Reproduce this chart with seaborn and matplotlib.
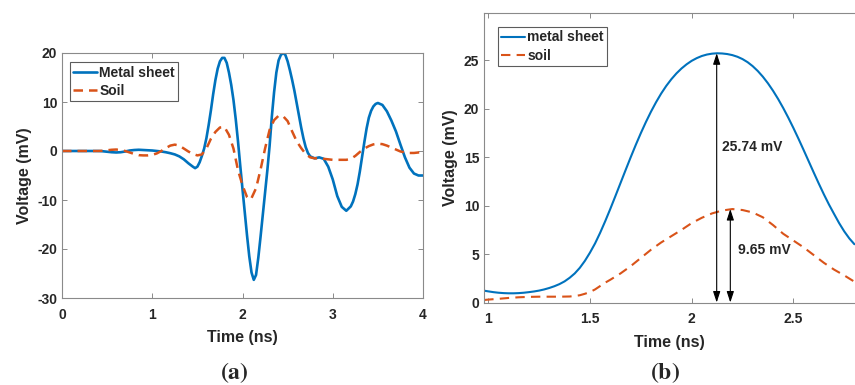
import numpy as np
import pandas as pd
import matplotlib
matplotlib.use("Agg")
import matplotlib.pyplot as plt
import seaborn as sns

# ---------------- data: panel (a) ----------------
t_metal_a = [0.00, 0.05, 0.10, 0.15, 0.20, 0.25, 0.30, 0.35, 0.40, 0.45, 0.50, 0.55, 0.60, 0.65,
             0.70, 0.75, 0.80, 0.85, 0.90, 0.95, 1.00, 1.05, 1.10, 1.15, 1.20, 1.25, 1.30, 1.35,
             1.40, 1.45, 1.475, 1.50, 1.525, 1.55, 1.575, 1.60, 1.625, 1.65, 1.675, 1.70, 1.725,
             1.75, 1.775, 1.80, 1.825, 1.85, 1.875, 1.90, 1.925, 1.95, 1.975, 2.00, 2.025, 2.05,
             2.075, 2.10, 2.125, 2.15, 2.175, 2.20, 2.225, 2.25, 2.275, 2.30, 2.325, 2.35, 2.375,
             2.40, 2.425, 2.45, 2.475, 2.50, 2.525, 2.55, 2.575, 2.60, 2.625, 2.65, 2.675, 2.70,
             2.725, 2.75, 2.80, 2.85, 2.90, 2.95, 3.00, 3.05, 3.10, 3.15, 3.20, 3.225, 3.25, 3.275,
             3.30, 3.325, 3.35, 3.375, 3.40, 3.425, 3.45, 3.475, 3.50, 3.55, 3.60, 3.65, 3.70,
             3.75, 3.80, 3.85, 3.90, 3.95, 4.00]
v_metal_a = [0, 0, 0, 0, 0, 0, 0, 0, 0, -0.05, -0.15, -0.25, -0.3, -0.25,
             -0.1, 0.1, 0.2, 0.25, 0.2, 0.15, 0.1, 0.0, -0.1, -0.25, -0.45, -0.7, -1.1, -1.7,
             -2.5, -3.2, -3.5, -3.2, -2.3, -1.0, 0.5, 2.6, 5.3, 8.3, 11.6, 14.5, 16.8,
             18.3, 19.0, 19.0, 18.0, 16.0, 13.5, 10.4, 6.5, 2.0, -3.0, -7.8, -12.5, -17.2,
             -21.5, -24.8, -26.3, -25.3, -21.8, -17.5, -13.0, -8.5, -4.0, 1.0, 7.0, 12.0, 16.0,
             18.5, 19.6, 20.0, 19.6, 18.3, 16.5, 14.5, 12.3, 9.8, 7.3, 4.8, 2.6, 0.8,
             -0.4, -1.1, -1.5, -1.3, -1.6, -3.2, -5.8, -9.2, -11.4, -12.2, -11.3, -10.3, -8.8, -6.8,
             -4.2, -1.2, 1.8, 4.6, 6.8, 8.2, 9.1, 9.6, 9.8, 9.4, 8.1, 6.2, 4.0,
             1.3, -1.3, -3.4, -4.6, -5.0, -5.0]

t_soil_a = [0.00, 0.05, 0.10, 0.15, 0.20, 0.25, 0.30, 0.35, 0.40, 0.45, 0.50, 0.55, 0.60, 0.65,
            0.70, 0.75, 0.80, 0.85, 0.90, 0.95, 1.00, 1.05, 1.10, 1.15, 1.20, 1.25, 1.30, 1.35,
            1.40, 1.45, 1.50, 1.55, 1.60, 1.65, 1.70, 1.75, 1.80, 1.85, 1.90, 1.95, 2.00, 2.05,
            2.075, 2.10, 2.15, 2.20, 2.25, 2.30, 2.35, 2.40, 2.45, 2.50, 2.55, 2.60, 2.65, 2.70,
            2.75, 2.80, 2.85, 2.90, 2.95, 3.00, 3.05, 3.10, 3.15, 3.20, 3.25, 3.30, 3.35, 3.40,
            3.45, 3.50, 3.55, 3.60, 3.65, 3.70, 3.75, 3.80, 3.85, 3.90, 3.95, 4.00]
v_soil_a = [0, 0, 0, 0, 0, 0, 0, 0, 0, 0.05, 0.15, 0.25, 0.3, 0.2,
            0.0, -0.3, -0.6, -0.85, -0.9, -0.9, -0.8, -0.5, 0.0, 0.6, 1.1, 1.3, 1.1, 0.5,
            -0.1, -0.6, -0.9, -0.7, 0.5, 2.5, 3.9, 4.8, 4.9, 3.3, 0.5, -3.9, -7.0, -9.4,
            -9.9, -9.6, -7.6, -3.8, 0.5, 4.3, 6.3, 7.2, 7.1, 6.1, 4.0, 2.0, 0.6, -0.6,
            -1.3, -1.5, -1.5, -1.6, -1.7, -1.8, -1.8, -1.8, -1.8, -1.6, -1.0, -0.2, 0.5, 1.0,
            1.35, 1.5, 1.4, 1.1, 0.7, 0.3, -0.1, -0.3, -0.4, -0.4, -0.3, -0.3]

# ---------------- data: panel (b) ----------------
t_metal_b = [0.98, 1.00, 1.025, 1.05, 1.075, 1.10, 1.125, 1.15, 1.175, 1.20, 1.225, 1.25,
             1.275, 1.30, 1.325, 1.35, 1.375, 1.40, 1.425, 1.45, 1.475, 1.50, 1.525, 1.55,
             1.575, 1.60, 1.625, 1.65, 1.675, 1.70, 1.725, 1.75, 1.775, 1.80, 1.825, 1.85,
             1.875, 1.90, 1.925, 1.95, 1.975, 2.00, 2.025, 2.05, 2.075, 2.10, 2.125, 2.15,
             2.175, 2.20, 2.225, 2.25, 2.275, 2.30, 2.325, 2.35, 2.375, 2.40, 2.425, 2.45,
             2.475, 2.50, 2.525, 2.55, 2.575, 2.60, 2.625, 2.65, 2.675, 2.70, 2.725, 2.75,
             2.775, 2.80]
v_metal_b = [1.22, 1.15, 1.07, 1.01, 0.97, 0.95, 0.95, 0.97, 1.01, 1.07, 1.14, 1.23,
             1.35, 1.5, 1.68, 1.9, 2.18, 2.55, 3.0, 3.58, 4.3, 5.15, 6.1, 7.2,
             8.4, 9.67, 10.99, 12.33, 13.67, 14.99, 16.27, 17.49, 18.64, 19.71, 20.69, 21.58,
             22.37, 23.06, 23.66, 24.17, 24.6, 24.96, 25.24, 25.46, 25.61, 25.7, 25.74, 25.72,
             25.66, 25.55, 25.38, 25.14, 24.82, 24.41, 23.91, 23.32, 22.64, 21.87, 21.02, 20.09,
             19.09, 18.03, 16.92, 15.77, 14.6, 13.43, 12.28, 11.17, 10.12, 9.15, 8.2, 7.35,
             6.62, 6.02]

t_soil_b = [0.98, 1.00, 1.05, 1.10, 1.15, 1.20, 1.25, 1.30, 1.35, 1.40, 1.425, 1.45, 1.475,
            1.50, 1.525, 1.55, 1.575, 1.60, 1.65, 1.70, 1.75, 1.80, 1.85, 1.90, 1.95, 2.00,
            2.05, 2.10, 2.15, 2.20, 2.25, 2.30, 2.35, 2.40, 2.45, 2.50, 2.55, 2.60, 2.65,
            2.70, 2.75, 2.80]
v_soil_b = [0.26, 0.3, 0.38, 0.47, 0.54, 0.58, 0.6, 0.6, 0.6, 0.62, 0.67, 0.75, 0.9,
            1.08, 1.35, 1.7, 2.05, 2.35, 3.0, 3.75, 4.6, 5.45, 6.2, 6.85, 7.5, 8.2,
            8.75, 9.2, 9.5, 9.65, 9.55, 9.3, 8.8, 8.0, 7.1, 6.4, 5.7, 4.9, 4.1,
            3.4, 2.8, 2.15]

peak_metal_t, peak_metal_v = 2.123, 25.74
peak_soil_t, peak_soil_v = 2.19, 9.65

x_ticks_a = [0, 1, 2, 3, 4]
y_ticks_a = [-30, -20, -10, 0, 10, 20]
x_ticks_b = [1, 1.5, 2, 2.5]
y_ticks_b = [0, 5, 10, 15, 20, 25]

# ---------------- style ----------------
sns.set_theme(style="ticks")
plt.rcParams["font.family"] = ["Liberation Sans", "DejaVu Sans"]
plt.rcParams["font.weight"] = "bold"
plt.rcParams["axes.labelweight"] = "bold"
plt.rcParams["mathtext.fontset"] = "stix"

BLUE = "#0072BD"
ORANGE = "#D95319"
TXT = "#262626"
SPINE = "#8a8a8a"

fig = plt.figure(figsize=(8.55, 3.85), dpi=100)
ax1 = fig.add_axes([62 / 855, 1 - 298 / 385, 361 / 855, 245 / 385])
ax2 = fig.add_axes([484 / 855, 1 - 302.5 / 385, 371 / 855, 289.5 / 385])

df_ma = pd.DataFrame({"t": t_metal_a, "v": v_metal_a})
df_sa = pd.DataFrame({"t": t_soil_a, "v": v_soil_a})
df_mb = pd.DataFrame({"t": t_metal_b, "v": v_metal_b})
df_sb = pd.DataFrame({"t": t_soil_b, "v": v_soil_b})

sns.lineplot(data=df_ma, x="t", y="v", ax=ax1, color=BLUE, lw=1.9, label="Metal sheet",
             estimator=None, sort=False, solid_joinstyle="round")
sns.lineplot(data=df_sa, x="t", y="v", ax=ax1, color=ORANGE, lw=1.8, label="Soil",
             linestyle=(0, (3.8, 2.4)), estimator=None, sort=False)
sns.lineplot(data=df_mb, x="t", y="v", ax=ax2, color=BLUE, lw=1.5, label="metal sheet",
             estimator=None, sort=False, solid_joinstyle="round")
sns.lineplot(data=df_sb, x="t", y="v", ax=ax2, color=ORANGE, lw=1.5, label="soil",
             linestyle=(0, (4.5, 3.0)), estimator=None, sort=False)

for ax in (ax1, ax2):
    ax.tick_params(direction="in", length=3.5, width=0.7, colors=TXT, labelsize=10,
                   top=True, right=(ax is ax1), color=SPINE)
    ax.tick_params(axis="x", pad=7)
    ax.tick_params(axis="y", pad=3.5)
    for s in ax.spines.values():
        s.set_color(SPINE)
        s.set_linewidth(0.8)
    ax.set_xlabel("Time (ns)", fontsize=11.5, color=TXT, labelpad=6)
    ax.set_ylabel("Voltage (mV)", fontsize=11.5, color=TXT, labelpad=4)

ax1.set_xlim(0, 4)
ax1.set_ylim(-30, 20)
ax1.set_xticks(x_ticks_a)
ax1.set_yticks(y_ticks_a)
ax1.set_xticklabels([str(v) for v in x_ticks_a], fontweight="bold")
ax1.set_yticklabels([str(v) for v in y_ticks_a], fontweight="bold")

ax2.set_xlim(0.979, 2.803)
ax2.set_ylim(0, 29.9)
ax2.set_xticks(x_ticks_b)
ax2.set_yticks(y_ticks_b)
ax2.set_xticklabels([f"{v:g}" for v in x_ticks_b], fontweight="bold")
ax2.set_yticklabels([str(v) for v in y_ticks_b], fontweight="bold")
ax2.spines["right"].set_visible(False)

leg_kw = dict(loc="upper left", borderaxespad=0, frameon=True, fancybox=False,
              handlelength=1.7, handletextpad=0.15, borderpad=0.25, labelspacing=0.3,
              prop={"weight": "bold", "size": 10})
l1 = ax1.legend(bbox_to_anchor=(0.022, 0.963), **leg_kw)
l2 = ax2.legend(bbox_to_anchor=(0.0377, 0.952), **leg_kw)
for lg in (l1, l2):
    lg.get_frame().set_edgecolor("#333333")
    lg.get_frame().set_linewidth(0.8)
    for tx in lg.get_texts():
        tx.set_color(TXT)

arrow_kw = dict(arrowstyle="<|-|>,head_length=0.55,head_width=0.18", color="black",
                lw=0.8, shrinkA=0, shrinkB=0)
ax2.annotate("", xy=(peak_metal_t, peak_metal_v), xytext=(peak_metal_t, 0),
             arrowprops=arrow_kw)
ax2.annotate("", xy=(peak_soil_t, peak_soil_v), xytext=(peak_soil_t, 0),
             arrowprops=arrow_kw)
ax2.text(2.147, 16.1, f"{peak_metal_v:.2f} mV", fontsize=10, fontweight="bold",
         color=TXT, va="center", ha="left")
ax2.text(2.227, 5.4, f"{peak_soil_v:.2f} mV", fontsize=10, fontweight="bold",
         color=TXT, va="center", ha="left")

fig.text(234 / 855, 1 - 373 / 385, r"$(\mathbf{a})$", fontsize=17, ha="center", va="center")
fig.text(665 / 855, 1 - 373 / 385, r"$(\mathbf{b})$", fontsize=17, ha="center", va="center")

fig.savefig("out.png", dpi=100)
